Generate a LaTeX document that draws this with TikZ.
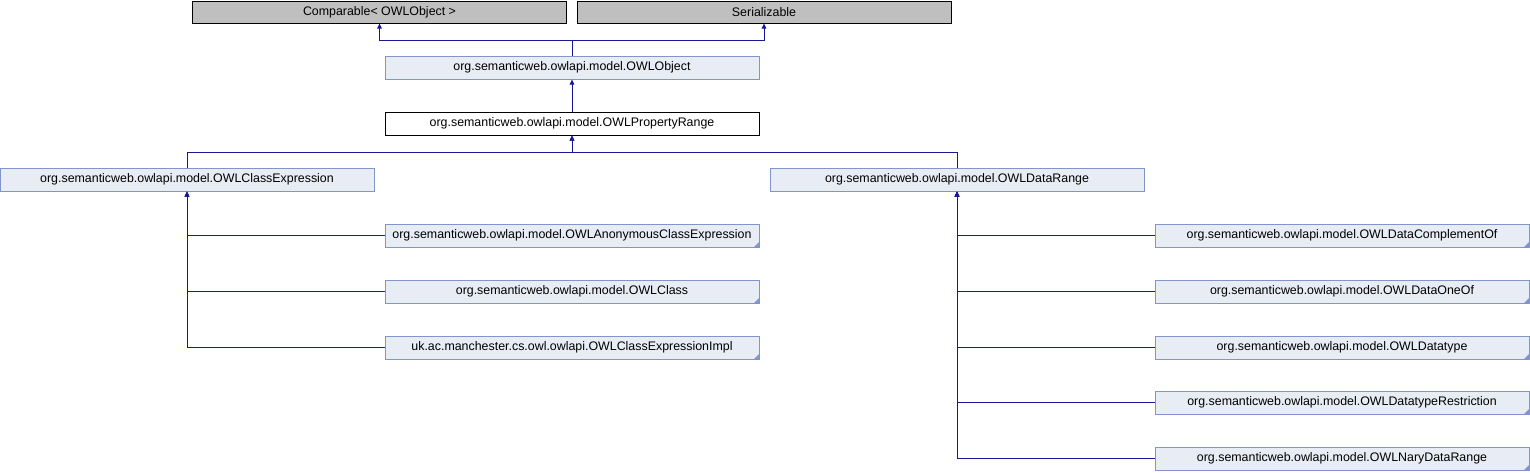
\documentclass[tikz,border=0pt]{standalone}
\usepackage{fontspec}
\setmainfont{Liberation Sans}
\usetikzlibrary{arrows.meta}
\definecolor{edgecol}{RGB}{25,25,150}
\definecolor{boxfill}{HTML}{E8ECF5}
\definecolor{boxline}{HTML}{7F95CC}
\definecolor{extfill}{HTML}{BFBFBF}
\begin{document}
\begin{tikzpicture}[x=1pt,y=-1pt,
  base/.style={draw,rectangle,minimum width=374pt,minimum height=23pt,inner sep=0pt,
    font=\fontsize{12.4}{14}\selectfont,line width=1pt},
  extbox/.style={base,fill=extfill,draw=black,minimum height=22pt},
  clsbox/.style={base,fill=boxfill,draw=boxline},
  curbox/.style={base,fill=white,draw=black},
  edge/.style={draw=edgecol,line width=1pt,-{Triangle[length=5pt,width=4.5pt]}},
]
\useasboundingbox (0,0) rectangle (1530,472);

\node[extbox] (cmp) at (379.5,12) {Comparable< OWLObject >};
\node[extbox] (ser) at (764,12) {Serializable};
\node[clsbox] (obj) at (572,67.5) {org.semanticweb.owlapi.model.OWLObject};
\node[curbox] (prange) at (572,123.5) {org.semanticweb.owlapi.model.OWLPropertyRange};
\node[clsbox] (cexp) at (187,179.5) {org.semanticweb.owlapi.model.OWLClassExpression};
\node[clsbox] (drange) at (957,179.5) {org.semanticweb.owlapi.model.OWLDataRange};

\node[clsbox] (anon) at (572,235.5) {org.semanticweb.owlapi.model.OWLAnonymousClassExpression};
\node[clsbox] (owlclass) at (572,291.5) {org.semanticweb.owlapi.model.OWLClass};
\node[clsbox] (impl) at (572,347.5) {uk.ac.manchester.cs.owl.owlapi.OWLClassExpressionImpl};

\node[clsbox] (dcomp) at (1342,235.5) {org.semanticweb.owlapi.model.OWLDataComplementOf};
\node[clsbox] (doneof) at (1342,291.5) {org.semanticweb.owlapi.model.OWLDataOneOf};
\node[clsbox] (dtype) at (1342,347.5) {org.semanticweb.owlapi.model.OWLDatatype};
\node[clsbox] (drestr) at (1342,402.5) {org.semanticweb.owlapi.model.OWLDatatypeRestriction};
\node[clsbox] (nary) at (1342,458.5) {org.semanticweb.owlapi.model.OWLNaryDataRange};

% corner markers
\foreach \n in {anon,owlclass,impl,dcomp,doneof,dtype,drestr,nary}{
  \fill[boxline] (\n.south east) -- ++(-6,0) -- ++(6,-6) -- cycle;
}

% junctions
\coordinate (jtop) at (572,40.7);
\coordinate (jmid) at (572,152.7);

\draw[edge] (obj.north) -- (jtop) -| (cmp.south);
\draw[edge] (obj.north) -- (jtop) -| (ser.south);
\draw[edge] (prange.north) -- (obj.south);
\draw[edge] (cexp.north) |- (jmid) -- (prange.south);
\draw[edge] (drange.north) |- (jmid) -- (prange.south);

\draw[edge] (anon.west) -| (cexp.south);
\draw[edge] (owlclass.west) -| (cexp.south);
\draw[edge] (impl.west) -| (cexp.south);

\draw[edge] (dcomp.west) -| (drange.south);
\draw[edge] (doneof.west) -| (drange.south);
\draw[edge] (dtype.west) -| (drange.south);
\draw[edge] (drestr.west) -| (drange.south);
\draw[edge] (nary.west) -| (drange.south);
\end{tikzpicture}
\end{document}
